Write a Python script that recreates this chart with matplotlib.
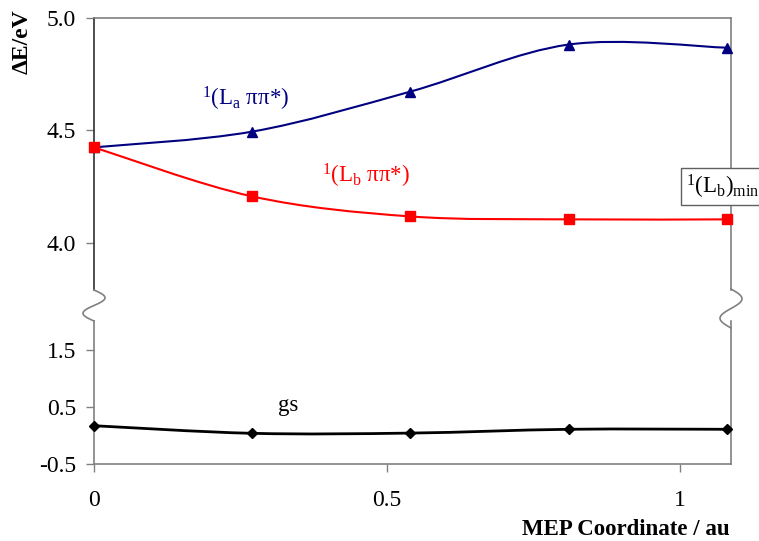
import numpy as np
import matplotlib
matplotlib.use("Agg")
import matplotlib.pyplot as plt
from matplotlib.path import Path
from matplotlib.patches import PathPatch
from matplotlib.lines import Line2D

plt.rcParams["font.family"] = ["Liberation Serif", "DejaVu Serif"]
plt.rcParams["mathtext.fontset"] = "custom"
plt.rcParams["mathtext.rm"] = "Liberation Serif"
plt.rcParams["mathtext.it"] = "Liberation Serif:italic"

# MEP coordinate (au)
mep = [0.0, 0.27, 0.54, 0.81, 1.08]
la = [4.425, 4.495, 4.673, 4.882, 4.868]
lb = [4.425, 4.207, 4.118, 4.105, 4.105]
gs = [0.17, 0.036, 0.04, 0.107, 0.107]

top_ticks = [4.0, 4.5, 5.0]
bot_ticks = [-0.5, 0.5, 1.5]
x_ticks = [0, 0.5, 1]
x_ticklabels = ["0", "0.5", "1"]

W, H = 759, 541
fig = plt.figure(figsize=(W / 100, H / 100), dpi=100)

left, right = 94 / W, 731 / W
ax_top = fig.add_axes([left, 1 - 290 / H, right - left, (290 - 18) / H])
ax_bot = fig.add_axes([left, 1 - 463.7 / H, right - left, (463.7 - 321) / H])


def smooth_path(xs, ys):
    # excel style smoothed line through the points (cubic bezier)
    p = np.column_stack([xs, ys])
    n = len(p)
    verts = [p[0]]
    codes = [Path.MOVETO]
    for i in range(n - 1):
        prev = p[i - 1] if i > 0 else p[i]
        nxt = p[i + 2] if i + 2 < n else p[i + 1]
        c1 = p[i] + (p[i + 1] - prev) / 6
        c2 = p[i + 1] - (nxt - p[i]) / 6
        verts += [c1, c2, p[i + 1]]
        codes += [Path.CURVE4] * 3
    return Path(verts, codes)


ax_top.add_patch(PathPatch(smooth_path(mep, la), fill=False, edgecolor="#000080", lw=1.5))
ax_top.add_patch(PathPatch(smooth_path(mep, lb), fill=False, edgecolor="#ff0000", lw=1.5))
ax_top.plot(mep, la, ls="none", marker="^", ms=7, color="#000080", clip_on=False, zorder=5)
ax_top.plot(mep, lb, ls="none", marker="s", ms=7, color="#ff0000", clip_on=False, zorder=5)

ax_bot.add_patch(PathPatch(smooth_path(mep, gs), fill=False, edgecolor="black", lw=2.0))
ax_bot.plot(mep, gs, ls="none", marker="D", ms=5, color="black", clip_on=False, zorder=5)

ax_top.set_xlim(0, 1.087)
ax_bot.set_xlim(0, 1.087)
ax_top.set_ylim(3.791, 5.0)
ax_bot.set_ylim(-0.5, 2.017)

ax_top.set_yticks(top_ticks)
ax_top.set_yticklabels(["%.1f" % t for t in top_ticks])
ax_bot.set_yticks(bot_ticks)
ax_bot.set_yticklabels(["%.1f" % t for t in bot_ticks])
ax_top.set_xticks([])
ax_bot.set_xticks(x_ticks)
ax_bot.set_xticklabels(x_ticklabels)

for ax in (ax_top, ax_bot):
    ax.tick_params(direction="out", length=6, width=1, color="#808080", labelsize=17)
    ax.tick_params(axis="y", pad=7)
    ax.tick_params(axis="x", pad=13)
    for s in ax.spines.values():
        s.set_color("#808080")
        s.set_linewidth(1.2)
ax_top.spines["bottom"].set_visible(False)
ax_bot.spines["top"].set_visible(False)
ax_top.spines["left"].set_color("#303030")

# wavy break marks on both vertical axes
t = np.linspace(0, 1, 60)
for xp, y0, y1 in [(94, 290, 321), (731, 289, 328)]:
    xs = xp + 11 * np.sin(2 * np.pi * t)
    ys = y0 + (y1 - y0) * t
    fig.add_artist(Line2D(xs / W, 1 - ys / H, transform=fig.transFigure, color="#808080", lw=1.2))

# labels
ax_top.text(0.258, 4.642, r"$^{1}$(L$_{\rm a}$ ππ*)", color="#000080", fontsize=16.5, ha="center", va="center")
ax_top.text(0.464, 4.300, r"$^{1}$(L$_{\rm b}$ ππ*)", color="#ff0000", fontsize=16.5, ha="center", va="center")
ax_top.text(1.010, 4.251, r"$^{1}$(L$_{\rm b}$)$_{\rm min}$", color="black", fontsize=16.5, ha="left", va="center",
            clip_on=False, zorder=10,
            bbox=dict(boxstyle="square,pad=0.2", facecolor="white", edgecolor="#606060", lw=1))
ax_bot.text(0.331, 0.53, "gs", fontsize=16.5, ha="center", va="center")

fig.text(22 / W, 1 - 42 / H, "ΔE/eV", rotation=90, fontsize=17, fontweight="bold", ha="center", va="center")
fig.text(730 / W, 1 - 535 / H, "MEP Coordinate / au", fontsize=16.5, fontweight="bold", ha="right", va="baseline")

fig.savefig("out.png", dpi=100)
